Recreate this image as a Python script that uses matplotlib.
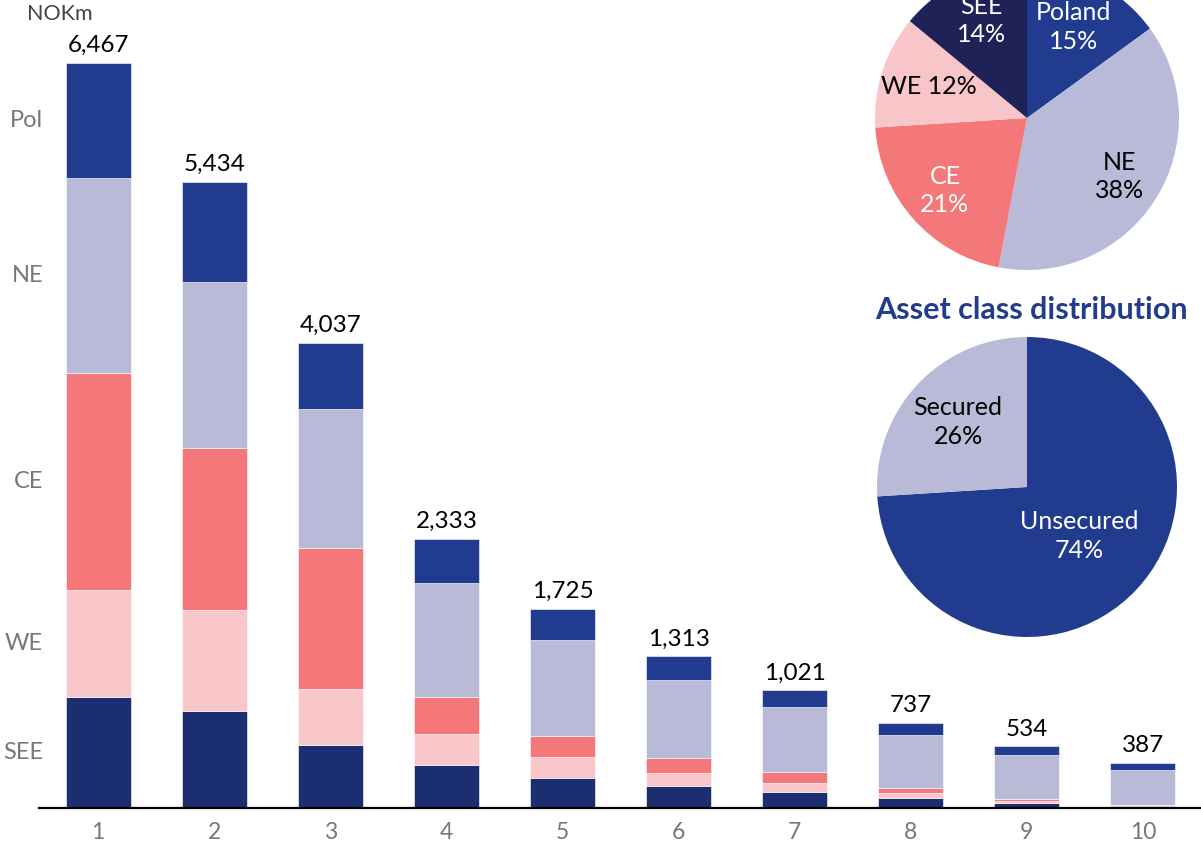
import matplotlib.pyplot as plt
import numpy as np

plt.rcParams["font.family"] = ["Lato", "DejaVu Sans"]

# Stacked bar data (NOKm)
buckets = ["1", "2", "3", "4", "5", "6", "7", "8", "9", "10"]
totals = [6467, 5434, 4037, 2333, 1725, 1313, 1021, 737, 534, 387]
see = [964, 842, 547, 373, 260, 191, 139, 87, 44, 4]
we = [929, 877, 486, 269, 182, 113, 78, 43, 17, 13]
ce = [1884, 1406, 1224, 321, 182, 130, 95, 43, 13, 5]
ne = [1693, 1441, 1207, 990, 833, 677, 564, 460, 382, 304]
pol = [998, 868, 573, 382, 269, 208, 148, 104, 78, 61]
segment_labels = ["SEE", "WE", "CE", "NE", "Pol"]

# Geography pie
geo_labels = ["Poland", "NE", "CE", "WE", "SEE"]
geo_share = [15, 38, 21, 12, 14]

# Asset class pie
asset_labels = ["Unsecured", "Secured"]
asset_share = [74, 26]

C_POL = "#213b8f"
C_NE = "#b8bad8"
C_CE = "#f4777a"
C_WE = "#f8c6c9"
C_SEE = "#1b2f70"
C_SEE_PIE = "#1f2256"
GREY = "#777777"

fig = plt.figure(figsize=(12.01, 8.49), dpi=100)

# ---- stacked bars ----
ax = fig.add_axes([39 / 1201, 41 / 849, 1162 / 1201, 808 / 849])
x = np.arange(1, len(buckets) + 1)
width = 0.56
bottom = np.zeros(len(buckets))
series = [see, we, ce, ne, pol]
colors = [C_SEE, C_WE, C_CE, C_NE, C_POL]
for vals, col in zip(series, colors):
    vals = np.array(vals, dtype=float)
    ax.bar(x, vals, width, bottom=bottom, color=col, edgecolor="white",
           linewidth=0.4)
    bottom += vals

for xi, t in zip(x, totals):
    ax.annotate(f"{t:,}", (xi, t), xytext=(0, 5), textcoords="offset points",
                ha="center", va="bottom", fontsize=17.5, color="black")

# segment names next to bar 1
first = [s[0] for s in series]
mids = np.cumsum(first) - np.array(first) / 2
for name, m in zip(segment_labels, mids):
    ax.text(0.525, m, name, ha="right", va="center", fontsize=17,
            color=GREY, clip_on=False)

ax.set_xlim(0.49, 10.5)
ax.set_ylim(0, 7014)
ax.set_xticks(x)
ax.set_xticklabels(buckets, fontsize=16.5, color=GREY)
ax.set_yticks([])
ax.tick_params(axis="x", length=0, pad=10)
for s in ["top", "right", "left"]:
    ax.spines[s].set_visible(False)
ax.spines["bottom"].set_linewidth(1.6)
ax.spines["bottom"].set_color("black")
ax.patch.set_alpha(0)

fig.text(60 / 1201, 1 - 14 / 849, "NOKm", ha="center", va="center",
         fontsize=15.5, color="#444444")


def draw_pie(rect, shares, labels, cols, txt_cols, dists, fmt):
    pax = fig.add_axes(rect)
    wedges, _ = pax.pie(shares, colors=cols, startangle=90, counterclock=False,
                        radius=1, wedgeprops=dict(linewidth=0))
    for w, lab, sh, tc, d in zip(wedges, labels, shares, txt_cols, dists):
        ang = np.deg2rad((w.theta1 + w.theta2) / 2)
        pax.text(d * np.cos(ang), d * np.sin(ang), fmt(lab, sh),
                 ha="center", va="center", fontsize=18, color=tc,
                 linespacing=1.3)
    pax.set_xlim(-1, 1)
    pax.set_ylim(-1, 1)
    pax.set_aspect("equal")
    pax.axis("off")
    return pax


def two_line(lab, sh):
    if lab == "WE":
        return f"{lab} {sh}%"
    return f"{lab}\n{sh}%"


# geography pie (partly cut off at the top)
draw_pie([875 / 1201, (849 - 270) / 849, 304 / 1201, 304 / 849],
         geo_share, geo_labels,
         [C_POL, C_NE, C_CE, C_WE, C_SEE_PIE],
         ["white", "black", "white", "black", "white"],
         [0.67, 0.72, 0.72, 0.68, 0.71], two_line)

# asset class pie
draw_pie([877 / 1201, (849 - 637) / 849, 300 / 1201, 300 / 849],
         asset_share, asset_labels, [C_POL, C_NE], ["white", "black"],
         [0.48, 0.63], lambda l, s: f"{l}\n{s}%")

fig.text(1031 / 1201, 1 - 310 / 849, "Asset class distribution",
         ha="center", va="center", fontsize=22, fontweight="bold",
         color=C_POL)

fig.savefig("out.png", dpi=100)
